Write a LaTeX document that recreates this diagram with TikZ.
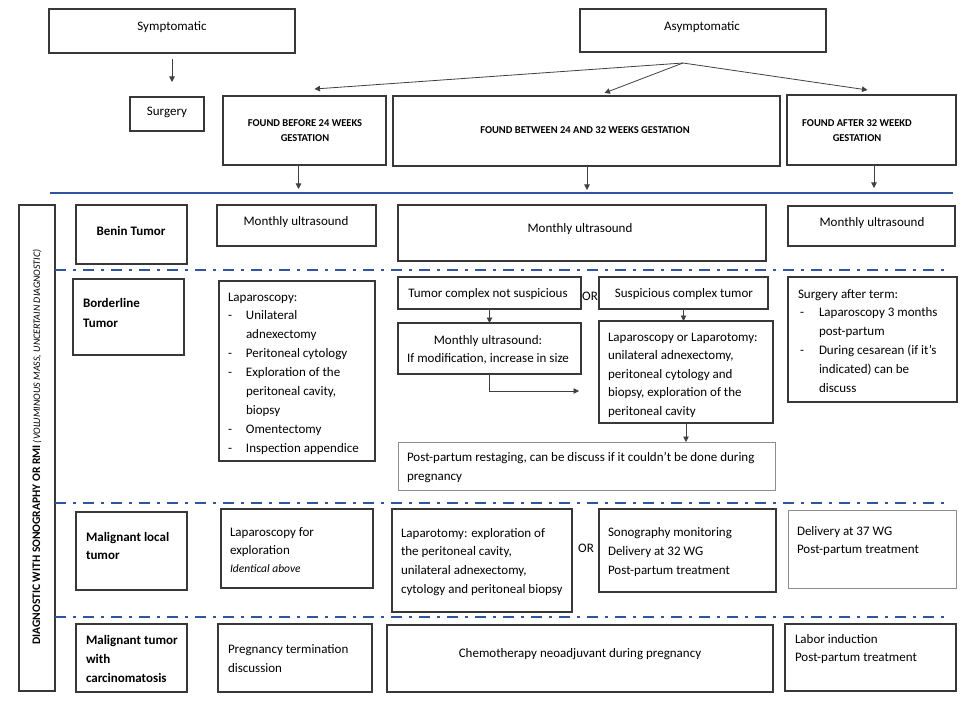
\documentclass[tikz,border=0pt]{standalone}
\usepackage{fontspec}
\setmainfont{Carlito}
\usetikzlibrary{arrows.meta,calc}
\newcommand{\mkbox}[6][]{\node[bx,#1,minimum width={#5-#3},minimum height={#6-#4}] (#2) at ({(#3+#5)/2},{(#4+#6)/2}) {};}
\newcommand{\tlft}[5][]{\node[tx,anchor=north west,#1] (#2) at (#3,{#4-10}) {\rule{0pt}{10pt}#5};}
\newcommand{\tctr}[5][]{\node[tx,anchor=base,#1] (#2) at (#3,#4) {#5};}
\newcommand{\itm}{\makebox[18pt][l]{-}}
\newcommand{\ind}{\hspace*{18pt}}
\begin{document}
\begin{tikzpicture}[x=1pt,y=-1pt,
  bx/.style={draw=black!78,line width=1.1pt,inner sep=0pt,outer sep=0pt},
  lbx/.style={draw=black!45,line width=1pt},
  tx/.style={inner sep=0pt,outer sep=0pt,align=left,font=\fontsize{13}{18.7}\selectfont},
  hd/.style={font=\bfseries\fontsize{10.5}{15}\selectfont,align=center},
  arr/.style={draw=black!75,line width=0.8pt,-{Triangle[length=5.5pt,width=5.5pt]}},
  blue/.style={draw={rgb,255:red,47;green,84;blue,160},line width=1.8pt},
  dd/.style={blue,dash pattern=on 11pt off 7pt on 3pt off 7pt}]
\useasboundingbox[fill=white] (0,0) rectangle (975,706);

% top boxes
\mkbox{sym}{49}{9}{295}{53}
\mkbox{asym}{580}{9}{826}{52}
\mkbox{surg}{130}{97}{204}{131}
\mkbox{fb}{223}{96}{386}{165}
\mkbox{fm}{393}{96}{780}{166}
\mkbox{fa}{787}{95}{956}{165}
\tctr{tsym}{172}{31}{Symptomatic}
\tctr{tasym}{702}{31}{Asymptomatic}
\tctr{tsurg}{167}{116}{Surgery}
\node[tx,hd,anchor=north] (tfb) at (305,{127-8}) {\rule{0pt}{8pt}FOUND BEFORE 24 WEEKS\\GESTATION};
\node[tx,hd,anchor=base] (tfm) at (585,134) {FOUND BETWEEN 24 AND 32 WEEKS GESTATION};
\node[tx,hd,anchor=north] (tfa) at (857,{127-8}) {\rule{0pt}{8pt}FOUND AFTER 32 WEEKD\\GESTATION};

% connectors top
\draw[arr] ([yshift=-6pt]sym.south) -- ([yshift=15pt]sym.south |- surg.north);
\coordinate (fan) at ($(asym.south)+(-20,11)$);
\draw[arr] (fan) -- ([xshift=10pt,yshift=7pt]fb.north);
\draw[arr] (fan) -- ([xshift=18pt,yshift=3pt]fm.north);
\draw[arr] (fan) -- ([xshift=-4pt,yshift=5pt]fa.north);
\coordinate (bl1) at (50,193);
\coordinate (bl2) at (953,193);
\draw[blue] (bl1) -- (bl2);
\draw[arr] ([xshift=-6pt]fb.south) -- ([xshift=-6pt,yshift=4pt]fb.south |- bl1);
\draw[arr] ([xshift=0.5pt]fm.south) -- ([xshift=0.5pt,yshift=3pt]fm.south |- bl1);
\draw[arr] ([xshift=2.5pt]fa.south) -- ([xshift=2.5pt,yshift=5pt]fa.south |- bl1);

% left vertical box
\mkbox{diag}{19}{205}{55}{691}
\node[inner sep=0pt,rotate=90] (tdiag) at (37,447) {{\bfseries\fontsize{11.5}{12}\selectfont DIAGNOSTIC WITH SONOGRAPHY OR RMI} {\itshape\fontsize{10}{12}\selectfont (VOLUMINOUS MASS, UNCERTAIN DIAGNOSTIC)}};

% dash-dot separators
\coordinate (d1a) at (55,270); \coordinate (d1b) at (947,270);
\coordinate (d2a) at (55,503); \coordinate (d2b) at (947,503);
\coordinate (d3a) at (55,617); \coordinate (d3b) at (947,617);
\draw[dd] (d1a) -- (d1b);
\draw[dd] (d2a) -- (d2b);
\draw[dd] (d3a) -- (d3b);

% row 1
\mkbox{benin}{76}{205}{187}{264}
\mkbox{mua}{217}{205}{376}{246}
\mkbox{mub}{398}{205}{766}{261}
\mkbox{muc}{788}{206}{955}{246}
\tctr[font=\bfseries\fontsize{13}{18}\selectfont]{tbenin}{131}{235}{Benin Tumor}
\tctr{tmua}{296}{225}{Monthly ultrasound}
\tctr{tmub}{580}{232}{Monthly ultrasound}
\tctr{tmuc}{872}{226}{Monthly ultrasound}

% row 2
\mkbox{bord}{73}{279}{184}{355}
\mkbox{lapa}{219}{281}{375}{461}
\mkbox{tc}{398}{277}{581}{309}
\mkbox{sus}{599}{277}{768}{309}
\mkbox{mu2}{398}{323}{581}{374}
\mkbox{lap}{599}{321}{773}{423}
\mkbox[lbx]{pp}{398}{442}{775}{490}
\mkbox{sat}{788}{277}{957}{402}
\tlft[font=\bfseries\fontsize{13}{20}\selectfont]{tbord}{83}{307}{Borderline\\Tumor}
\tlft[font=\fontsize{13}{18.9}\selectfont]{tlapa}{228}{301}{Laparoscopy:\\\itm Unilateral\\\ind adnexectomy\\\itm Peritoneal cytology\\\itm Exploration of the\\\ind peritoneal cavity,\\\ind biopsy\\\itm Omentectomy\\\itm Inspection appendice}
\tctr{ttc}{488}{297}{Tumor complex not suspicious}
\tctr{tor1}{590}{300}{OR}
\tctr{tsus}{684}{297}{Suspicious complex tumor}
\node[tx,align=center,anchor=north,font=\fontsize{13}{18}\selectfont] (tmu2) at (488,{344-10}) {\rule{0pt}{10pt}Monthly ultrasound:\\If modification, increase in size};
\tlft[font=\fontsize{13}{18.5}\selectfont]{tlap}{608}{341}{Laparoscopy or Laparotomy:\\unilateral adnexectomy,\\peritoneal cytology and\\biopsy, exploration of the\\peritoneal cavity}
\tlft[font=\fontsize{13}{19}\selectfont]{tpp}{407}{461}{Post-partum restaging, can be discuss if it couldn't be done during\\pregnancy}
\tlft[font=\fontsize{13}{18.8}\selectfont]{tsat}{798}{298}{Surgery after term:\\\hspace*{2pt}\makebox[19pt][l]{-}Laparoscopy 3 months\\\hspace*{21pt}post-partum\\\hspace*{2pt}\makebox[19pt][l]{-}During cesarean (if it's\\\hspace*{21pt}indicated) can be\\\hspace*{21pt}discuss}
\draw[arr] (tc.south) -- (mu2.north);
\draw[arr] (sus.south) -- (sus.south |- lap.north);
\draw[arr] (mu2.south) |- ($(lap.west)+(-20,19)$);
\draw[arr] (lap.south) -- (lap.south |- pp.north);

% row 3
\mkbox{mal}{76}{512}{187}{590}
\mkbox{lfe}{221}{509}{373}{588}
\mkbox{lapt}{392}{509}{572}{612}
\mkbox{sono}{599}{509}{776}{592}
\mkbox[lbx]{deliv}{788}{510}{956}{588}
\tlft[font=\bfseries\fontsize{13}{18}\selectfont]{tmal}{86}{541}{Malignant local\\tumor}
\tlft[font=\fontsize{13}{18}\selectfont]{tlfe}{230}{536}{Laparoscopy for\\exploration\\{\itshape\fontsize{11.5}{18}\selectfont Identical above}}
\tlft{tlapt}{401}{537}{Laparotomy: exploration of\\the peritoneal cavity,\\unilateral adnexectomy,\\cytology and peritoneal biopsy}
\tctr{tor2}{586}{552}{OR}
\tlft[font=\fontsize{13}{19}\selectfont]{tsono}{608}{536}{Sonography monitoring\\Delivery at 32 WG\\Post-partum treatment}
\tlft[font=\fontsize{13}{18}\selectfont]{tdeliv}{797}{535}{Delivery at 37 WG\\Post-partum treatment}

% row 4
\mkbox{carc}{76}{624}{187}{692}
\mkbox{preg}{218}{624}{372}{692}
\mkbox{chemo}{387}{625}{773}{692}
\mkbox{labor}{785}{624}{956}{691}
\tlft[font=\bfseries\fontsize{13}{19}\selectfont]{tcarc}{86}{644}{Malignant tumor\\with\\carcinomatosis}
\tlft[font=\fontsize{13}{19}\selectfont]{tpreg}{228}{653}{Pregnancy termination\\discussion}
\tctr{tchemo}{580}{657}{Chemotherapy neoadjuvant during pregnancy}
\tlft[font=\fontsize{13}{18}\selectfont]{tlabor}{795}{643}{Labor induction\\Post-partum treatment}
\end{tikzpicture}
\end{document}
